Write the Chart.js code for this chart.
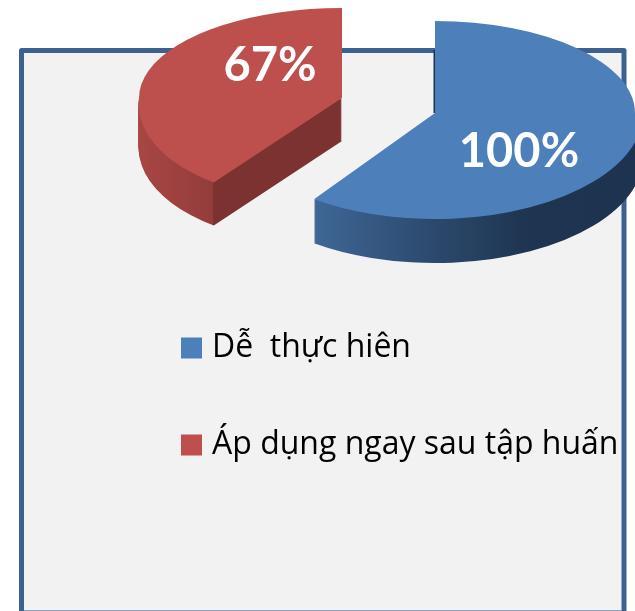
<!DOCTYPE html>
<html>
<head>
<meta charset="utf-8">
<style>
  html, body { margin: 0; padding: 0; background: #fff; overflow: hidden; }
  canvas { position: absolute; left: 0; top: 0; }
</style>
</head>
<body>
<canvas id="pie3d" width="635" height="611"></canvas>
<script src="https://cdn.jsdelivr.net/npm/chart.js@4/dist/chart.umd.js"></script>
<script>
const categories = ['Dễ  thực hiên', 'Áp dụng ngay sau tập huấn'];
const values = [100, 67];
const sliceColors = ['#4d7fbb', '#bd4f4d'];

// where each exploded slice lands on the page, squashed to look 3d
const sliceLook = [
    {cx: 435, cy: 113, rx: 200, rxDown: 208, shear: 0, up: 92, down: 106, depth: 44, labelX: 519, labelY: 152,
     wall: [[314, '#3f6796'], [430, '#2c4a6e'], [530, '#1e3450'], [635, '#1e334f']]},
    {cx: 342, cy: 98, rx: 203, rxDown: 203, shear: -0.12, up: 90, down: 104, depth: 43, labelX: 270, labelY: 66,
     wall: [[139, '#a94644'], [223, '#933d3b'], [223.5, '#7c3231'], [342, '#7c3231']]}
];

function paintSlice(ctx, arc, look, dy, rx, ry, shear, clipTop, clipHeight, fill) {
    const R = arc.outerRadius;
    ctx.save();
    ctx.beginPath();
    ctx.rect(0, clipTop, 635, clipHeight);
    ctx.clip();
    ctx.translate(look.cx, look.cy + dy);
    ctx.transform(1, 0, shear, 1, 0, 0);
    ctx.scale(rx / R, ry / R);
    ctx.translate(-arc.x, -arc.y);
    const copy = Object.create(arc);
    copy.options = Object.assign({}, arc.options, {backgroundColor: fill});
    copy.draw(ctx);
    ctx.restore();
}

function wallGradient(ctx, arc, look) {
    const toChart = px => (px - look.cx) * arc.outerRadius / look.rxDown + arc.x;
    const first = look.wall[0][0], last = look.wall[look.wall.length - 1][0];
    const grad = ctx.createLinearGradient(toChart(first), 0, toChart(last), 0);
    look.wall.forEach(stop => grad.addColorStop((stop[0] - first) / (last - first), stop[1]));
    return grad;
}

const panelPlugin = {
    id: 'panel',
    beforeDraw(chart) {
        const ctx = chart.ctx;
        ctx.save();
        ctx.fillStyle = '#f2f2f2';
        ctx.strokeStyle = '#3b6191';
        ctx.lineWidth = 5;
        ctx.lineJoin = 'round';
        ctx.beginPath();
        ctx.rect(21.5, 50.5, 602.5, 570);
        ctx.fill();
        ctx.stroke();
        ctx.fillStyle = '#8aa3c6';
        ctx.fillRect(24, 610, 597, 1);
        ctx.restore();
    }
};

const slicesPlugin = {
    id: 'slices',
    beforeDatasetsDraw(chart) {
        const ctx = chart.ctx;
        const arcs = chart.getDatasetMeta(0).data;
        arcs.forEach((arc, i) => {
            const look = sliceLook[i];
            const wall = wallGradient(ctx, arc, look);
            for (let d = look.depth; d >= 1; d--) {
                paintSlice(ctx, arc, look, d, look.rxDown, look.down, look.shear, look.cy + d, 611, wall);
            }
            // thin dark edge beside the blue slice
            if (i === 0) {
                ctx.save();
                ctx.beginPath();
                ctx.rect(432, 50, 4, 63);
                ctx.clip();
                ctx.translate(-1.5, 0);
                paintSlice(ctx, arc, look, 0, look.rx, look.up, 0, 0, look.cy, '#1e334f');
                ctx.restore();
            }
            paintSlice(ctx, arc, look, 0, look.rx, look.up, 0, 0, look.cy, sliceColors[i]);
            paintSlice(ctx, arc, look, 0, look.rxDown, look.down, look.shear, look.cy, 611, sliceColors[i]);
        });
        return false;
    },
    afterDraw(chart) {
        const ctx = chart.ctx;
        ctx.save();
        ctx.fillStyle = '#fff';
        ctx.font = 'bold 47px Lato, "Noto Sans", sans-serif';
        ctx.textAlign = 'center';
        ctx.textBaseline = 'middle';
        values.forEach((v, i) => ctx.fillText(v + '%', sliceLook[i].labelX, sliceLook[i].labelY));
        ctx.restore();
    }
};

// chart.js has no free legend position, so put the box where it belongs
const legendPlacePlugin = {
    id: 'legendPlace',
    afterLayout(chart) {
        const legend = chart.legend;
        const pad = legend.options.labels.padding;
        legend.left = 187 - pad;
        legend.right = 635;
        legend.top = 332 - pad;
        legend.bottom = 611;
    }
};

new Chart(document.getElementById('pie3d').getContext('2d'), {
    type: 'pie',
    data: {
        labels: categories,
        datasets: [{
            data: values,
            backgroundColor: sliceColors,
            borderWidth: 0
        }]
    },
    options: {
        responsive: false,
        animation: false,
        rotation: 0,
        plugins: {
            tooltip: {enabled: false},
            legend: {
                position: 'chartArea',
                align: 'start',
                labels: {
                    usePointStyle: true,
                    pointStyle: 'rect',
                    boxWidth: 9,
                    boxHeight: 21,
                    padding: 65,
                    color: '#000',
                    font: {family: '"Open Sans", "Noto Sans", sans-serif', size: 32}
                }
            }
        }
    },
    plugins: [panelPlugin, slicesPlugin, legendPlacePlugin]
});
</script>
</body>
</html>
